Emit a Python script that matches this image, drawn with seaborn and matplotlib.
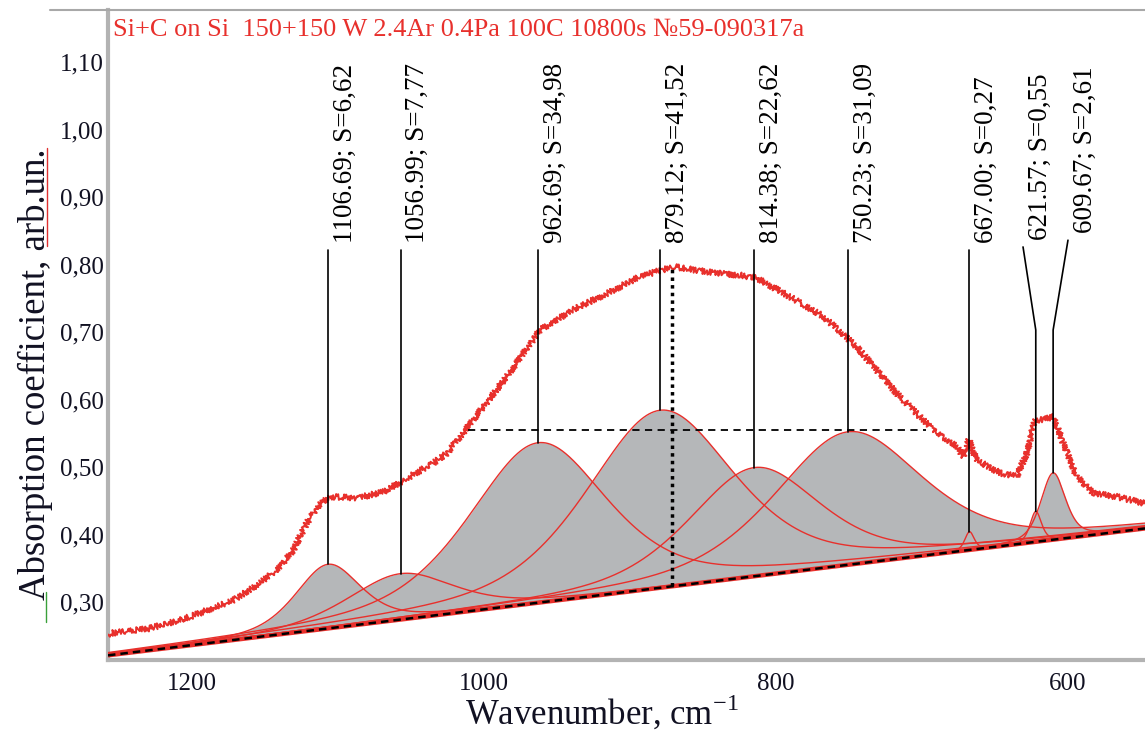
import numpy as np
import matplotlib
matplotlib.use("Agg")
import matplotlib.pyplot as plt
import seaborn as sns
from matplotlib.ticker import MultipleLocator, FixedLocator, FuncFormatter
from matplotlib.lines import Line2D

wn_meas = [1257.5, 1254.9, 1228.7, 1201.3, 1171.6, 1153.3, 1139.6, 1130.5, 1121.3,
           1112.2, 1105.3, 1087.0, 1068.8, 1052.8, 1034.5, 1025.3, 1007.1, 984.2,
           961.4, 938.6, 915.7, 892.9, 870.0, 847.1, 824.3, 812.9, 790.0, 767.2,
           744.3, 716.9, 705.5, 691.8, 675.8, 671.3, 667.4, 662.1, 646.1, 634.7,
           627.8, 622.1, 616.4, 609.6, 602.7, 593.5, 582.2, 566.1, 546.7]
abs_meas = [0.252, 0.254, 0.261, 0.278, 0.303, 0.328, 0.352, 0.377, 0.417,
            0.446, 0.456, 0.454, 0.463, 0.483, 0.506, 0.520, 0.570, 0.634,
            0.703, 0.733, 0.757, 0.782, 0.797, 0.789, 0.784, 0.780, 0.752, 0.723,
            0.678, 0.609, 0.584, 0.555, 0.530, 0.515, 0.540, 0.510, 0.491, 0.486,
            0.520, 0.570, 0.570, 0.575, 0.535, 0.486, 0.461, 0.456, 0.446]

# fitted bands: centre, area S, height above baseline
centers = [1106.69, 1056.99, 962.69, 879.12, 814.38, 750.23, 667.00, 621.57, 609.67]
areas = [6.62, 7.77, 34.98, 41.52, 22.62, 31.09, 0.27, 0.55, 2.61]
heights = [0.095, 0.068, 0.237, 0.263, 0.161, 0.197, 0.027, 0.045, 0.099]
labels = ["1106.69; S=6,62", "1056.99; S=7,77", "962.69; S=34,98", "879.12; S=41,52",
          "814.38; S=22,62", "750.23; S=31,09", "667.00; S=0,27", "621.57; S=0,55",
          "609.67; S=2,61"]
# where the label leader lines start
label_wn = [1106.69, 1056.99, 962.69, 879.12, 814.38, 750.23, 667.00, 630.3, 599.5]
label_y = [0.8215, 0.8215, 0.8215, 0.8215, 0.8215, 0.8215, 0.8215, 0.826, 0.836]

# linear baseline end points
base_wn = [1257.5, 546.7]
base_val = [0.221, 0.409]

# half-height marks
fwhm_wn = [1011.0, 697.0]
fwhm_y = 0.555
max_wn = 870.7
max_y = [0.323, 0.797]

title = "Si+C on Si  150+150 W 2.4Ar 0.4Pa 100C 10800s №59-090317a"

RED = "#e8302c"
GREY = "#b5b7b9"

sns.set_theme(style="white")
plt.rcParams["font.family"] = ["Liberation Serif", "DejaVu Serif"]
plt.rcParams["mathtext.fontset"] = "custom"
plt.rcParams["mathtext.rm"] = "Liberation Serif"

fig = plt.figure(figsize=(11.45, 7.33), dpi=100)
ax = fig.add_axes([108 / 1145, 73 / 733, 1037 / 1145, 650 / 733])

grid = np.linspace(base_wn[1], base_wn[0], 2500)
base = np.interp(grid, base_wn[::-1], base_val[::-1])


def band(c, s, h):
    eta = 0.5
    hw = s / (h * (eta * np.pi + (1 - eta) * np.sqrt(np.pi / np.log(2))))
    d = ((grid - c) / hw) ** 2
    return h * (eta / (1 + d) + (1 - eta) * np.exp(-np.log(2) * d))


comps = [band(c, s, h) for c, s, h in zip(centers, areas, heights)]

for comp in comps:
    ax.fill_between(grid, base, base + comp, color=GREY, lw=0, zorder=1)
for comp in comps:
    sns.lineplot(x=grid, y=base + comp, ax=ax, color=RED, lw=1.0, sort=False, zorder=3)

# baseline
ax.plot(base_wn, base_val, color=RED, lw=3.2, zorder=4, solid_capstyle="butt")
ax.plot(base_wn, base_val, color="black", lw=1.8, dashes=(3, 2), zorder=5)

# measured spectrum
sns.lineplot(x=wn_meas, y=abs_meas, ax=ax, color=RED, lw=1.4, sort=False, zorder=6)
ax.lines[-1].set_sketch_params(scale=3.0, length=2.5, randomness=2.0)

# leader lines and labels
for c, h, lw_, ly, txt in zip(centers, heights, label_wn, label_y, labels):
    top = np.interp(c, base_wn[::-1], base_val[::-1]) + h
    ax.plot([lw_, c, c], [ly, 0.703, top], color="black", lw=1.2, zorder=7)
    ax.text(lw_ - 11.8, ly + 0.010, txt, rotation=90, ha="center", va="bottom",
            fontsize=19.5, color="black")

ax.plot(fwhm_wn, [fwhm_y, fwhm_y], color="black", lw=1.3, dashes=(4, 3), zorder=7)
ax.plot([max_wn, max_wn], max_y, color="black", lw=2.5, ls=(0, (1, 1.2)), zorder=7)

ax.text(0.005, 0.969, title, transform=ax.transAxes, color=RED, fontsize=19,
        ha="left", va="center")

ax.set_xlim(base_wn[0], base_wn[1])
ax.set_ylim(0.2141, 1.177)

ax.xaxis.set_major_locator(FixedLocator([1200, 1000, 800, 600]))
ax.xaxis.set_minor_locator(MultipleLocator(50))
ax.yaxis.set_major_locator(FixedLocator([0.3, 0.4, 0.5, 0.6, 0.7, 0.8, 0.9, 1.0, 1.1]))
ax.yaxis.set_minor_locator(MultipleLocator(0.02))
ax.yaxis.set_major_formatter(FuncFormatter(lambda v, p: f"{v:.2f}".replace(".", ",")))
ax.tick_params(axis="both", which="major", direction="in", length=3, width=1.6,
               color="black", labelsize=18, labelcolor="#111122")
ax.tick_params(axis="both", which="minor", direction="in", length=2, width=1.4,
               color="black")
ax.tick_params(axis="x", pad=9)
ax.tick_params(axis="y", pad=3)

for side in ["top", "right"]:
    ax.spines[side].set_visible(False)
for side in ["left", "bottom"]:
    ax.spines[side].set_color("#b3b3b3")
    ax.spines[side].set_linewidth(3)

fig.add_artist(Line2D([50 / 1145, 1.0], [723 / 733, 723 / 733], color="#a8a8a8", lw=1.5))

ax.set_xlabel("Wavenumber, cm$^{-1}$", fontsize=25, color="#111122")
ax.set_ylabel("Absorption coefficient, arb.un.", fontsize=26.5, color="#111122")
ax.xaxis.set_label_coords(0.476, -0.1)
ax.xaxis.label.set_va("baseline")
ax.yaxis.set_label_coords(-0.053, 0.44)

# spell-check squiggles beside the y label
sq_red = Line2D([47 / 1145, 47 / 1145], [1 - 148 / 733, 1 - 246 / 733], color="#e03030", lw=1.0)
sq_red.set_sketch_params(scale=1.5, length=2.0, randomness=1.0)
fig.add_artist(sq_red)
sq_green = Line2D([46 / 1145, 46 / 1145], [1 - 592 / 733, 1 - 622 / 733], color="#3aa03a", lw=1.0)
sq_green.set_sketch_params(scale=1.5, length=2.0, randomness=1.0)
fig.add_artist(sq_green)

fig.savefig("out.png", dpi=100)
